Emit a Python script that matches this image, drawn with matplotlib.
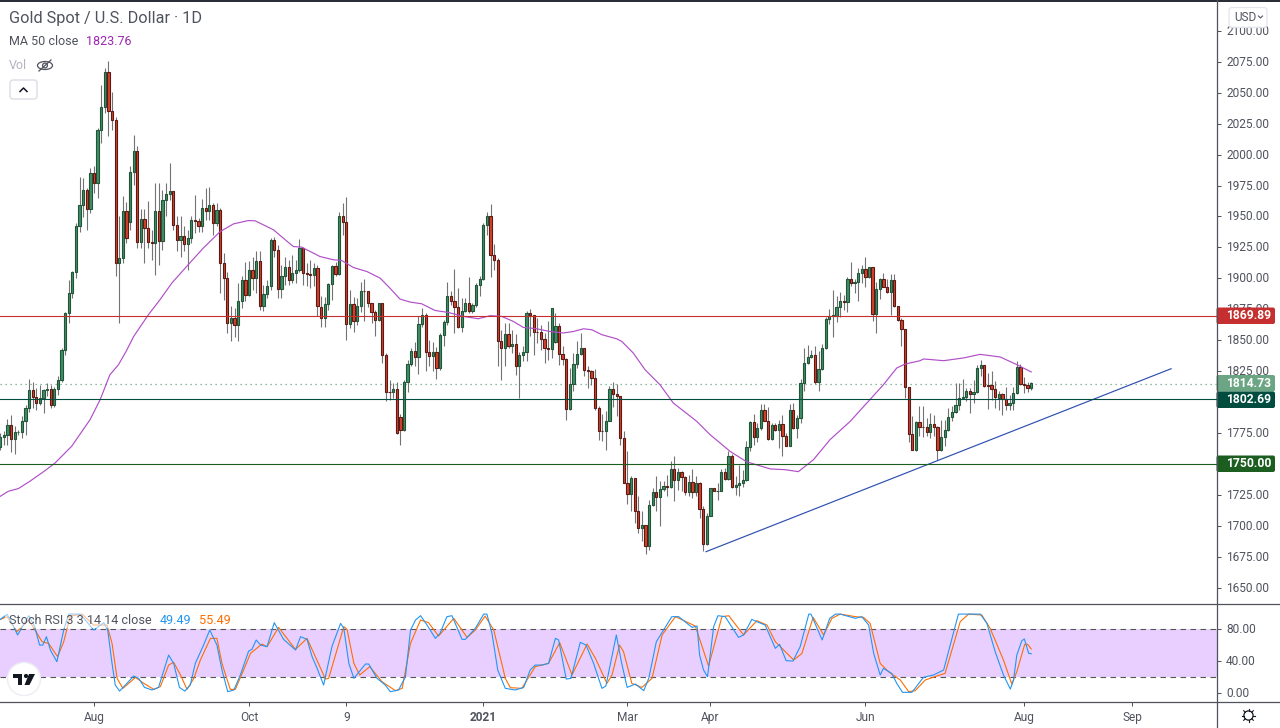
import numpy as np
import matplotlib
matplotlib.use("Agg")
import matplotlib.pyplot as plt
from matplotlib.patches import FancyBboxPatch, Circle, Ellipse, Rectangle
from matplotlib.transforms import ScaledTranslation

plt.rcParams['font.family'] = ['Roboto', 'DejaVu Sans']

opens = [1763.3,1771.7,1773.3,1781.4,1770,1775.4,1775.7,1784.6,1795.1,1809.6,
    1803.7,1799.2,1802.9,1809.6,1810.5,1797.3,1810.5,1817.7,1842,1871.9,
    1888,1905.5,1941.9,1959.4,1971.2,1956.4,1985,1976.9,2020,2038.3,
    2066.6,2035.3,2027.8,1912.3,1916.3,1954.3,1945.4,1985.8,2002.7,1929.5,
    1947.8,1940.5,1929.2,1928.4,1954.3,1929.8,1963.1,1968,1970.4,1943,
    1930.8,1934,1928.1,1932.4,1947,1946.2,1941.9,1956.7,1954.3,1959.1,
    1944.6,1955.1,1912.3,1900.1,1863.8,1867.8,1861.9,1881.3,1898.8,1886.4,
    1906.6,1899.9,1913.9,1877.8,1887.2,1894,1930.8,1923,1891.3,1901.8,
    1909,1898.5,1904.2,1906.6,1924.4,1904.2,1903.1,1902.6,1908.2,1877.2,
    1867.8,1879.1,1895.3,1909.8,1903.1,1950.2,1945.9,1863,1879.1,1865.1,
    1877.5,1889.6,1889.6,1880,1872.4,1866.2,1880,1837.9,1808,1807.8,
    1810.5,1787.8,1777,1816.1,1830.7,1841.2,1836,1863,1870.2,1840.1,
    1836.9,1840.1,1827.2,1854.1,1864.6,1885.6,1881.6,1876.7,1860.5,1873.2,
    1880,1873.2,1878.3,1894.5,1899.3,1943,1950.2,1918.7,1914.7,1849,
    1843.6,1854.9,1844.9,1846.8,1828.8,1837.9,1840.3,1871.9,1870.5,1856.5,
    1856.5,1850.9,1843.6,1842.5,1848.2,1861.4,1838.7,1834.7,1794.3,1814.5,
    1830.7,1838.7,1843.6,1825.8,1824.7,1819.4,1795.1,1776.5,1776.5,1784.6,
    1810.5,1806.4,1804.5,1770.8,1734.5,1725.6,1738.5,1711.9,1698.1,1700.3,
    1683.6,1716.7,1727.2,1723.2,1729.6,1732,1731.3,1745.8,1736.9,1743.4,
    1739.3,1726.9,1735.3,1727.2,1734.5,1713.5,1685.2,1707.8,1730.4,1727.8,
    1728,1743.4,1737.4,1756.6,1731.3,1732.9,1734.5,1736.9,1763.6,1783.8,
    1771.4,1778.9,1793.5,1784.6,1770,1781.3,1777.3,1782.2,1772.7,1764.1,
    1793.5,1778.9,1787,1815.3,1831.4,1836.3,1837.9,1815.8,1826.6,1843.6,
    1867.3,1869.7,1869.7,1876.7,1881.5,1880.7,1899.3,1896.6,1896.9,1904.1,
    1907.4,1900.9,1909,1870.8,1891.2,1899.3,1892.8,1889.3,1898.5,1877.5,
    1865.9,1858.9,1812,1774.1,1761.2,1783.8,1779.7,1779.7,1775.7,1782.2,
    1779.7,1761.2,1771.7,1777.3,1787.8,1791.9,1797.5,1803.2,1804,1808.8,
    1806.4,1808,1827.4,1829.8,1813.4,1813.4,1810.4,1803.2,1806.4,1802.4,
    1797.5,1799.1,1807.2,1828.2,1814.5,1813.9,1811.2]

highs = [1775,1776.3,1786.5,1789.7,1780.3,1777.6,1788.4,1797.8,1818.5,1816.1,
    1811.3,1814,1810.5,1815.3,1814,1812.1,1821.2,1843.6,1872.4,1898.8,
    1906.3,1944.6,1982.3,1981.5,1972.8,1989,1991.2,2021.3,2056.3,2069.8,
    2075.7,2050.4,2030.7,1950,1966.6,1962.1,1990.4,2015.9,2007.3,1955.9,
    1955.9,1962.6,1939.2,1976.9,1977.4,1971.5,1977.4,1993,1970.4,1950,
    1950,1941.9,1939.2,1950,1967.5,1948.6,1964,1972.8,1973.7,1960.7,
    1960.7,1956.7,1920.3,1905.5,1878,1876,1896.1,1901.5,1913,1913.6,
    1917.6,1921.7,1921.7,1894.7,1898.8,1932.4,1933.3,1927,1910.9,1917.6,
    1915,1919,1915,1932,1925.7,1912.3,1915,1912.3,1910.9,1885.9,
    1884.5,1896.1,1910.9,1912.8,1954,1960.7,1965.6,1890.7,1884.8,1884,
    1896.9,1899.3,1889.6,1880,1874.5,1880,1880,1839.5,1818,1815.3,
    1815.8,1790.5,1818,1833.6,1843.6,1848.4,1869.2,1875.9,1871.9,1850.3,
    1848.4,1844.4,1855.7,1866.5,1896.9,1889.4,1907.4,1892,1884,1884,
    1900.9,1880,1896.1,1902,1944.6,1954,1960.2,1927.6,1916.3,1857.9,
    1863.8,1863.8,1858.4,1855.2,1840.3,1844.9,1873.2,1875,1870.5,1867.8,
    1862.4,1855.7,1865.1,1875.9,1871.9,1863.8,1845,1835.5,1827.4,1839.5,
    1849.5,1855.7,1843.6,1829.3,1826.1,1826.9,1796.5,1790.5,1792.4,1812.6,
    1816.4,1814.8,1805.1,1776.2,1760.6,1739.9,1738.5,1724.2,1711.9,1700.3,
    1721,1730.4,1740.4,1735.8,1735.8,1741.2,1752.5,1756,1746.6,1743.9,
    1739.9,1741.2,1745.8,1739.9,1735,1715.6,1710.2,1730.4,1730.4,1734.5,
    1745.8,1746.6,1760,1758.2,1739.9,1749.3,1745.2,1768.2,1784.3,1790.5,
    1783,1798.3,1798.6,1795.9,1783,1783,1785.6,1789.7,1774.9,1798.3,
    1799.1,1789.7,1818.5,1843.6,1846.2,1842.2,1844.9,1840.9,1846.8,1868.6,
    1875,1890.7,1885.3,1889.3,1886.6,1900.9,1913,1899.3,1908.2,1910.9,
    1917.1,1909,1909.5,1897.4,1900.1,1904.1,1899.3,1903.6,1903.6,1877.8,
    1867.8,1859.2,1812,1788.4,1784.3,1796.4,1796.4,1787,1791,1789.7,
    1780.3,1785.7,1785.7,1795.1,1796.4,1815.3,1815.3,1818.5,1811.2,1811.2,
    1818,1830.1,1833.6,1830.1,1823.4,1824.7,1816.6,1808.5,1807.2,1812,
    1805.9,1812,1832.8,1830.9,1820.1,1816.1,1815.8]

lows = [1761,1765.5,1765,1759.3,1758,1773.6,1770.9,1773.6,1791.6,1795.1,
    1793.8,1797.8,1791,1804.5,1795.1,1795.9,1805.9,1815.8,1837.7,1863.8,
    1884,1900.1,1937.8,1949.9,1939.2,1952.6,1968.8,1964.8,2009.2,2034,
    2015.1,2020,1901.5,1863.8,1912.3,1928.4,1939.2,1975.5,1924.4,1924.4,
    1912.3,1924.4,1915,1902.8,1910.9,1923,1950,1963.4,1939.2,1921.7,
    1917,1921.7,1906.9,1928.4,1936.5,1937.8,1937.8,1947.3,1947.3,1935.1,
    1941.9,1888,1882.6,1855.7,1849,1852.2,1849,1875.9,1881.3,1885.3,
    1890.7,1888,1874.6,1873.2,1884,1890.7,1917.6,1884,1884,1894.7,
    1894.7,1896,1896,1905.5,1894.7,1893.4,1892,1893.4,1869.2,1860.3,
    1861,1874.5,1882.1,1901.5,1902.3,1935.1,1850.3,1859.7,1856.2,1862.4,
    1872.7,1865.1,1877.2,1863.8,1853,1865.1,1831.5,1801,1801.8,1803.2,
    1774.4,1765,1776.3,1808,1828.8,1828.8,1822.6,1861,1825.3,1828.8,
    1824.7,1818.8,1826.1,1844.9,1862.4,1878.6,1855.7,1859.7,1857,1872.7,
    1871.9,1871.9,1877.2,1885.3,1898.8,1935.1,1900.7,1906.9,1828.8,1817.5,
    1828.8,1843.6,1839.5,1822,1803.2,1832.8,1832.8,1853,1837.7,1847.6,
    1841.7,1831.5,1834.2,1835.5,1847.6,1830.1,1829.6,1785.2,1793.8,1808.6,
    1827.4,1838.2,1821.2,1811,1814,1793.8,1769.5,1768.2,1760.9,1784.3,
    1796,1788.4,1765.5,1734.5,1717.8,1711.6,1702.2,1694.1,1687.4,1677.1,
    1680.6,1715.6,1711.6,1699.5,1727.8,1723.7,1730.4,1719.7,1728.6,1727.8,
    1725,1723.7,1722.4,1723.7,1706.2,1679.3,1684.7,1707.6,1727.8,1721,
    1727.8,1737.2,1737.2,1730.4,1725,1723.7,1731.3,1735.8,1760,1765.5,
    1767.3,1777.6,1784.3,1769.5,1769,1776.2,1762.8,1756,1764.1,1764.1,
    1778.4,1770.8,1783,1808.5,1830.9,1835.5,1814.7,1808.5,1826.1,1842.7,
    1863.2,1852.2,1864.3,1869.1,1874.5,1872.4,1893.4,1888,1882,1896.1,
    1892.8,1900.1,1865.1,1855.7,1883.1,1892.6,1888.5,1870.5,1876.7,1865.4,
    1844.9,1803.2,1767.3,1761.2,1760.1,1772.2,1771.7,1772.2,1770.8,1772.2,
    1753.3,1760.1,1764.1,1776.2,1784.3,1791,1793.7,1803.2,1800.5,1791,
    1799.1,1807.2,1820.7,1812,1794.3,1801.8,1795.1,1793.7,1789.7,1793.7,
    1793.2,1793.7,1806.7,1813.4,1807.2,1807.7,1809.4]

closes = [1771.7,1773.6,1781.4,1770,1775.7,1776,1784.6,1795.1,1809.6,1803.7,
    1799.2,1802.9,1809.6,1810.5,1797.3,1810.5,1817.7,1842,1871.9,1888,
    1905.5,1941.9,1959.4,1971.2,1956.4,1985,1976.9,2020,2038.3,2066.6,
    2035.3,2027.8,1912.3,1916.3,1954.3,1932.2,1985.8,2002.7,1929.5,1947.8,
    1940.5,1929.2,1928.4,1954.3,1929.8,1963.1,1968,1970.4,1943,1930.8,
    1934,1928.1,1932.4,1947,1946.2,1941.9,1956.7,1954.3,1959.1,1944.6,
    1955.1,1912.3,1900.1,1863.8,1867.8,1861.9,1881.3,1898.8,1886.4,1906.6,
    1899.9,1913.9,1877.8,1887.2,1894,1930.8,1923,1891.3,1901.8,1909,
    1898.5,1904.2,1906.6,1924.4,1904.2,1903.1,1902.6,1908.2,1877.8,1867.8,
    1879.1,1895.3,1909.8,1903.1,1950.2,1945.9,1863,1879.1,1865.1,1877.5,
    1889.6,1889.4,1880,1872.4,1866.2,1880,1837.9,1808,1807.8,1810.5,
    1774.9,1777,1816.1,1830.7,1841.2,1836,1863,1870.2,1840.1,1836.9,
    1840.1,1827.2,1854.1,1864.6,1885.6,1881.6,1876.7,1860.5,1873.5,1880,
    1873.2,1878.3,1894.5,1899.3,1943,1950.2,1918.7,1914.7,1849,1843.6,
    1854.9,1844.9,1846.8,1828.8,1837.9,1840.3,1871.9,1870.5,1856.5,1856.2,
    1850.9,1843.6,1842.5,1875.9,1861.4,1838.7,1834.7,1794.3,1814.5,1830.7,
    1838.7,1843.6,1825.8,1824.7,1819.4,1795.1,1776.5,1776.3,1784.6,1810.5,
    1806.4,1804.5,1770.8,1734.5,1725.6,1738.5,1711.9,1698.1,1700.3,1683.6,
    1716.7,1727.2,1723.2,1729.6,1731.8,1731.3,1745.8,1736.9,1743.4,1739.3,
    1726.9,1735.3,1727.2,1734.5,1713.5,1685.2,1707.8,1730.4,1727.8,1728,
    1743.4,1737.4,1756.6,1731.3,1732.9,1734.5,1736.9,1763.6,1783.8,1771.4,
    1778.9,1793.5,1784.3,1770,1781.3,1777.3,1782.2,1772.2,1764.1,1793.5,
    1778.9,1787,1815.3,1831.4,1836.3,1837.9,1815.8,1826.6,1843.6,1867.3,
    1869.7,1870,1876.7,1881.5,1880.7,1899.3,1896.6,1896.9,1904.1,1907.4,
    1900.9,1909,1870.8,1891.2,1899.3,1892.8,1889.3,1898.5,1877.5,1865.9,
    1858.9,1812,1774.1,1761.2,1783.8,1779.7,1779.5,1775.7,1782.2,1779.7,
    1761.2,1771.7,1777.3,1787.8,1791.9,1797.5,1803.2,1804,1808.8,1806.4,
    1808,1827.4,1829.8,1812.9,1812.9,1810.4,1804,1806.4,1802.4,1797.5,
    1799.1,1807.2,1828.2,1814.5,1813.9,1811.2,1815]

# MA 50 read at its bends
ma_bars = [0,2.2,5,8.2,12.4,15.2,19.8,24.9,27.7,30.4,32.8,34.9,37,41.1,44.3,47.6,51.7,56.3,61,64.7,
    68.8,70.7,75.8,78.5,81.3,83.6,88.7,92.4,94.7,98,101.7,105.4,108.1,110.9,113.7,116.9,120.6,124.3,128.5,132.6,
    135.9,139.1,142.3,145.1,148.8,152.5,156.2,159,161.8,164.1,166.9,171,172.4,175.6,178.9,183,186.7,193.2,196.9,202.5,
    207.1,213.6,217.7,221.4,225.6,230.2,235.8,240.4,245,248.7,251,255.2,256.1,261.7,267.2,271.8,277.4,282,286]
ma_vals = [1723.8,1727.8,1730,1735.9,1744.5,1750.7,1764.2,1785.7,1801.9,1822,1830.2,1840.9,1853,1870.6,1882.7,1896.2,1909.6,1924.4,1937.8,1944,
    1946.7,1946.5,1939.2,1932.5,1925.7,1925.2,1917.6,1915,1914.4,1908.7,1905.5,1900.1,1892,1883.2,1880.8,1879.4,1874,1872.4,1869.2,1867.3,
    1869.8,1869.2,1865.2,1860.3,1859.2,1857,1855.8,1857,1859.2,1858.4,1854.4,1851.1,1849,1839.6,1826,1814,1799.2,1784.4,1773.6,1760,
    1751.6,1745.9,1745.3,1743.7,1753.4,1769.6,1784.4,1799.2,1814,1827.5,1830.7,1833.4,1834.8,1833.4,1835.6,1838.5,1836.4,1830.2,1824.3]

k_bars = [0,1.9,3.5,4.8,7.9,9.5,10.9,11.8,12.8,13.9,15.7,17.6,19,22.2,25.9,28.7,29.8,31,31.9,33.1,
    34.7,37,38.4,40,42.1,43.9,46.7,48.1,49.7,51.2,52.7,54.1,56.4,58.1,60.1,61.5,63.1,64.8,66.6,68.9,
    69.8,71,72.2,74,76,78.6,81.9,83.3,85.1,86.5,87.9,89.7,92,94.4,95.3,96.7,98.1,101.3,102.2,104.5,
    106.8,108.2,110.5,112.4,113.8,115.2,116.6,118.4,120.7,122,123.9,125.3,128.1,129,131.8,134.1,135,136.4,138,140.1,
    142.9,145.2,147,148.4,150.3,152.1,154,154.9,157,158.3,160.9,162.5,164.6,166.9,168,170.9,172.3,173.9,176.2,178.5,
    179.9,182,186.3,188.2,191.9,193.3,194,195.1,196.2,197.9,199.1,201.1,204.8,206.2,208.5,209.9,212.2,215,216.2,218,
    219.9,221.9,224.3,224.9,228,230.1,231.7,233,237.2,239,240.9,242.3,244.1,245,247.3,248.7,250.3,252.9,256.1,258.9,
    261.7,265.8,268.6,271.9,273.7,276,278.3,280.2,281.1,282,283.4,284.1,285.3,286]
k_vals = [92.4,98.7,85.3,72.9,97,84,60.3,60.3,70.8,54.1,39.5,79.1,99,99,79.1,88.3,79.1,37.4,10.3,2.8,
    10.3,21.6,18.7,7.4,4.1,7.4,47.8,37.4,7.4,2.8,10.3,37.4,60.3,79.1,60.3,29.1,2,4.1,22.9,52.8,
    54.9,66.6,60.3,58.3,88.3,67.4,54.1,70.8,67.4,45.8,31.2,10.3,58.3,87.4,81.2,37.4,18.7,36.6,36.6,18.7,
    10.3,2,4.1,20.8,79.1,91.6,97,85.3,68.7,75,95.8,97,67.4,67.4,81.2,99,99,74.9,29.1,6.2,
    4.1,7.4,29.1,35.3,35.3,37.4,68.7,66.6,17.8,18.7,63.7,60.3,37.4,6.2,9.1,72.9,39.5,7.4,11.6,3.3,
    18.7,64.5,95.8,95.8,82.4,84.1,47.8,29.1,20.8,83.3,97,95.8,69.9,72.9,92.4,89.5,85.3,56.2,61.2,40.8,
    40.3,58.3,99,99,66.6,93.7,99,99,93.7,95.8,85.3,49.9,22.9,31.2,24.9,12.4,1.2,1.2,19.9,22.9,
    29.1,99,99,99,87.4,52,22.9,5.3,16.6,47.8,65.8,67.8,49.9,49.49]

d_bars = [0,1.9,4.6,7.9,10.2,11.6,13.4,15.9,17.6,19.4,22.7,25.9,29.6,31,32.4,34,35.6,37.5,39.8,42.6,
    44.4,46.7,48.1,50,51.8,53.7,55.5,58.3,60.1,61.5,63.8,65.2,67.5,69.4,72.6,74,77.2,81.9,85.1,87.4,
    90.2,91.1,95.3,96.2,98.1,99.7,102.5,105.9,109.6,111.5,113.8,116.6,118.8,121.6,125.8,129.5,131.8,134.5,136.9,140.1,
    141.5,144.7,148.4,152.1,155.2,158.6,162.8,165.1,168.3,169.7,171.8,172.9,175.2,178,180.8,183.6,187.3,192.8,196.5,200.2,
    202.1,206.2,209.9,212.7,215,220.1,222.4,225.5,228.4,230.7,233,237.2,239.5,241.3,244.1,246.4,249.7,252,253.8,256.6,
    259.8,262.1,266.3,268.6,272.3,274.6,278.3,280.6,282,284.2,285,286]
d_vals = [92.4,95.8,77,91.6,74.9,64.5,62.4,45.8,64.5,96.6,99,85.3,85.3,62.4,18.7,6.2,12.4,19.9,12.4,4.9,
    8.3,35.3,38.7,22.9,4.9,18.7,41.6,68.7,68.7,37.4,4.9,4.9,29.1,49.9,61.6,58.3,82.4,54.9,68.7,45.8,
    17.8,18.7,83.3,79.9,37.4,22.9,33.3,14.5,3.3,6.2,62.4,91.6,88.3,71.6,93.7,69.9,79.1,96.6,79.1,18.7,
    7,6.2,33.3,37.4,63.3,22.9,61.6,43.7,12.4,22.9,60.3,52,12.4,7.4,18.7,72.9,95.8,84.1,34.1,95.8,
    97,72.9,90.8,85.3,64.5,41.6,49.9,94.9,72.9,93.7,99,95.8,94.9,87.4,37.4,27,16.6,2,3.3,16.6,
    21.6,24.9,89.5,99,97.8,81.2,41.6,11.6,27,61.2,61.2,55.49]

# 1750 and 1800 are hidden behind the price badges in the original
price_ticks = list(range(1650, 2125, 25))
hidden_labels = [1750, 1800]
rsi_ticks = [0, 40, 80]
date_pos = [26, 69, 96, 134, 174, 197, 240, 284, 314]
date_labels = ['Aug', 'Oct', '9', '2021', 'Mar', 'Apr', 'Jun', 'Aug', 'Sep']
levels = [1869.89, 1802.69, 1750.0]
level_colors = ['#c62f2f', '#004d40', '#1b5e20']
last_price = 1814.73
trend_bars = [195.8, 324.8]
trend_vals = [1679, 1826.9]

W, H = 1280, 728
AXIS_X = 1216.5
LINE = '#50535e'
TEXT = '#50535e'


def pane(top, bottom):
    return fig.add_axes([0, 1 - bottom / H, AXIS_X / W, (bottom - top) / H])


def style(ax):
    for s in ax.spines.values():
        s.set_visible(False)
    ax.set_xlim(-0.08, 337.4)
    ax.yaxis.tick_right()
    ax.tick_params(axis='y', length=3, width=0.72, color=LINE, labelcolor=TEXT, labelsize=8.6, pad=3.9)


def nudge_up(ax):
    for lab in ax.get_yticklabels():
        lab.set_transform(lab.get_transform() + ScaledTranslation(0, 1 / 100, fig.dpi_scale_trans))


fig = plt.figure(figsize=(W / 100, H / 100), dpi=100, facecolor='white')

# price pane
ax = pane(1.0, 603.0)
style(ax)
ax.set_ylim(1637.5, 2124.2)
ax.set_yticks(price_ticks)
ax.set_yticklabels(['' if t in hidden_labels else '%.2f' % t for t in price_ticks])
ax.set_xticks([])
nudge_up(ax)

o = np.array(opens)
c = np.array(closes)
x = np.arange(len(o))
up = c >= o
ax.vlines(x, lows, highs, color='#737375', lw=0.8, zorder=2)
ax.bar(x[up], (c - o)[up], bottom=o[up], width=0.62, color='#3f8f68', edgecolor='#225437', linewidth=0.8, zorder=3)
ax.bar(x[~up], (o - c)[~up], bottom=c[~up], width=0.62, color='#d5412c', edgecolor='#5b1a13', linewidth=0.8, zorder=3)

ax.plot(ma_bars, ma_vals, color='#b04fc8', lw=0.85, zorder=4)
ax.plot(trend_bars, trend_vals, color='#2e4fb0', lw=0.85, zorder=4)
for lv, col in zip(levels, level_colors):
    ax.axhline(lv, color=col, lw=0.8, zorder=4)
ax.axhline(last_price, color='#6ba583', lw=0.9, ls=(0, (1, 3)), zorder=1)

# stoch rsi pane
ax2 = pane(603.5, 701.5)
style(ax2)
ax2.set_ylim(-10.25, 112.25)
ax2.set_yticks(rsi_ticks)
ax2.set_yticklabels(['%.2f' % t for t in rsi_ticks])
nudge_up(ax2)
ax2.axhspan(20, 80, color='#e9cfff', lw=0, zorder=1)
ax2.axhline(80, color='#555555', lw=0.8, ls=(0, (5, 4)), zorder=2)
ax2.axhline(20, color='#555555', lw=0.8, ls=(0, (5, 4)), zorder=2)
ax2.plot(d_bars, d_vals, color='#ff6d00', lw=0.8, zorder=3)
ax2.plot(k_bars, k_vals, color='#2196f3', lw=0.8, zorder=4)
ax2.set_xticks(date_pos)
ax2.set_xticklabels(date_labels)
ax2.tick_params(axis='x', length=3, width=0.72, color=LINE, labelcolor=TEXT, labelsize=8.6, pad=3.5)
lab = ax2.get_xticklabels()
lab[3].set_fontweight('bold')

# overlay for frame lines, legend text, price badges
ov = fig.add_axes([0, 0, 1, 1], facecolor='none')
ov.set_xlim(0, W)
ov.set_ylim(H, 0)
ov.axis('off')

ov.add_patch(Rectangle((0, 0), W, 1.5, color='#2a2e39', lw=0))
ov.plot([0, W], [603.5, 603.5], color=LINE, lw=0.9)
ov.plot([0, W], [701.5, 701.5], color=LINE, lw=0.9)
ov.plot([AXIS_X, AXIS_X], [0, H], color=LINE, lw=0.9)

ov.text(9, 18, 'Gold Spot / U.S. Dollar · 1D', color=TEXT, fontsize=11.7, va='center')
ov.text(9, 41.5, 'MA 50 close', color=TEXT, fontsize=9, va='center')
ov.text(86, 41.5, '1823.76', color='#9c27b0', fontsize=9, va='center')
ov.text(9, 65.5, 'Vol', color='#b2b5be', fontsize=9, va='center')

# crossed out eye
ov.add_patch(Ellipse((45, 65.5), 15, 8, fc='none', ec=TEXT, lw=0.9))
ov.add_patch(Circle((45, 65.5), 2.4, fc='none', ec=TEXT, lw=0.9))
ov.plot([39, 51], [71, 60], color=TEXT, lw=0.9)

ov.add_patch(FancyBboxPatch((10, 80), 27, 19, boxstyle='round,pad=0,rounding_size=3', fc='white', ec='#d8dae2', lw=0.9))
ov.plot([20, 23.5, 27], [91.5, 88, 91.5], color='#131722', lw=1.1)

ov.add_patch(Rectangle((5, 612), 230, 16, fc='white', alpha=0.55, lw=0))
ov.text(9, 620.5, 'Stoch RSI 3 3 14 14 close', color=TEXT, fontsize=9.1, va='center')
ov.text(160, 620.5, '49.49', color='#2196f3', fontsize=9.1, va='center')
ov.text(199, 620.5, '55.49', color='#ff6d00', fontsize=9.1, va='center')

# logo
ov.add_patch(Circle((24, 679), 16.5, fc='white', ec='#eceef2', lw=1))
ov.add_patch(Rectangle((13, 674), 9, 4, color='#131722', lw=0))
ov.add_patch(Rectangle((18, 674), 4, 11, color='#131722', lw=0))
ov.add_patch(Circle((26, 676), 2.1, color='#131722', lw=0))
ov.fill([29, 35, 29.5, 24.5], [674, 674, 685, 685], color='#131722', lw=0)

ov.add_patch(FancyBboxPatch((1229, 7.5), 38, 20, boxstyle='round,pad=0,rounding_size=3', fc='white', ec='#e0e3eb', lw=0.9, alpha=0.92))
ov.text(1234, 17.5, 'USD', color=TEXT, fontsize=8.5, va='center')
ov.plot([1258.5, 1260.5, 1262.5], [16, 18, 16], color=TEXT, lw=0.8)


def badge(y0, y1, col, txt):
    ov.add_patch(FancyBboxPatch((AXIS_X, y0), 1275 - AXIS_X, y1 - y0, boxstyle='round,pad=0,rounding_size=2', fc=col, ec='none'))
    ov.text(1226.5, (y0 + y1) / 2, txt, color='white', fontsize=8.7, fontweight='bold', va='center')


badge(307.5, 324, level_colors[0], '%.2f' % levels[0])
badge(375, 391.5, '#6ba583', '%.2f' % last_price)
badge(391.5, 408, level_colors[1], '%.2f' % levels[1])
badge(455.5, 472, level_colors[2], '%.2f' % levels[2])

# settings gear
ov.add_patch(Circle((1248.5, 715.5), 4.6, fc='white', ec='#131722', lw=0.9))
for a in np.arange(0, 360, 45):
    ca, sa = np.cos(np.radians(a)), np.sin(np.radians(a))
    ov.plot([1248.5 + 4.6 * ca, 1248.5 + 6.8 * ca], [715.5 + 4.6 * sa, 715.5 + 6.8 * sa], color='#131722', lw=0.8)

fig.savefig('out.png', dpi=100)
